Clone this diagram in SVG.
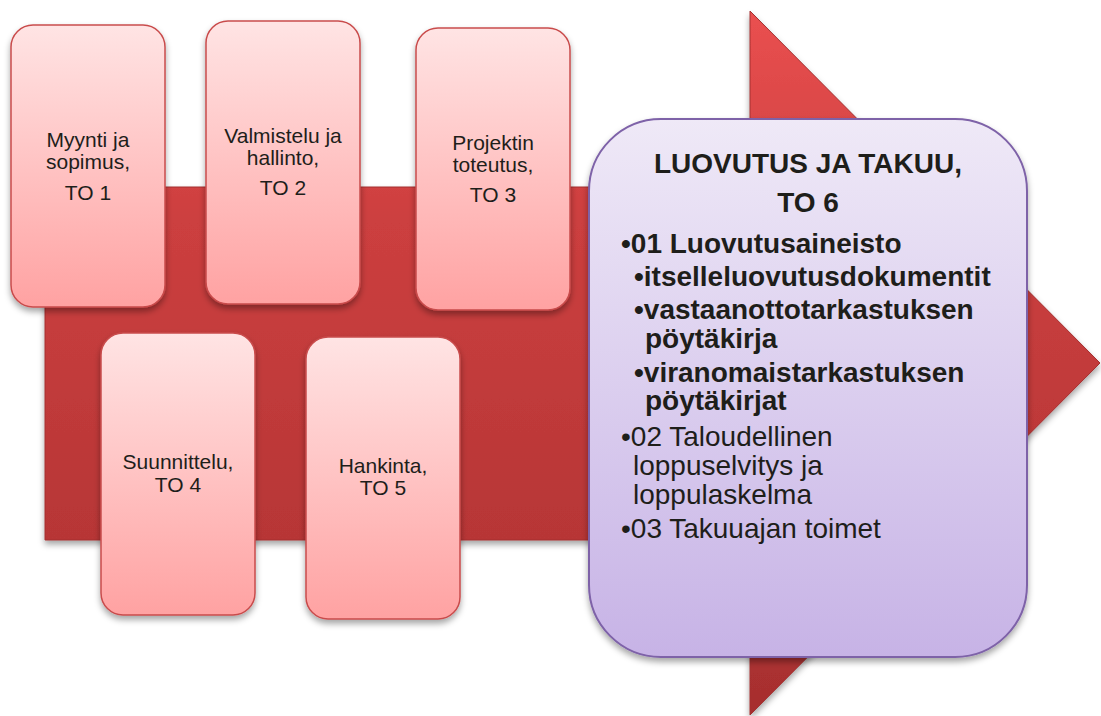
<svg xmlns="http://www.w3.org/2000/svg" width="1101" height="716" viewBox="0 0 1101 716">
<defs>
<linearGradient id="arrowGrad" gradientUnits="userSpaceOnUse" x1="0" y1="11" x2="0" y2="715">
<stop offset="0" stop-color="#ea5050"/>
<stop offset="0.3" stop-color="#cc3f3f"/>
<stop offset="0.75" stop-color="#b73636"/>
<stop offset="1" stop-color="#a62e2e"/>
</linearGradient>
<linearGradient id="boxGrad" x1="0" y1="0" x2="0" y2="1">
<stop offset="0" stop-color="#ffe4e4"/>
<stop offset="1" stop-color="#ffa2a2"/>
</linearGradient>
<linearGradient id="bigGrad" x1="0" y1="0" x2="0" y2="1">
<stop offset="0" stop-color="#efe9f7"/>
<stop offset="1" stop-color="#c7b3e6"/>
</linearGradient>
<filter id="shadow" x="-20%" y="-20%" width="140%" height="150%">
<feDropShadow dx="0" dy="4" stdDeviation="3" flood-color="#000" flood-opacity="0.35"/>
</filter>
</defs>
<style>
.box{fill:url(#boxGrad);stroke:#c94c4c;stroke-width:1.5;filter:url(#shadow)}
.big{fill:url(#bigGrad);stroke:#7e62a8;stroke-width:2;filter:url(#shadow)}
.lbl{font-family:"Liberation Sans",Arial,sans-serif;font-size:21px;fill:#1e1e1a;text-anchor:middle}
.t{font-family:"Liberation Sans",Arial,sans-serif;font-size:28px;fill:#1e1e1a}
.b{font-weight:bold}
</style>
<g id="arrow">
<path d="M45,187 H750 V11 L1100,363 L750,715 V540 H45 Z" fill="url(#arrowGrad)" stroke="#a33030" stroke-width="1" filter="url(#shadow)"/>
</g>
<g id="node1">
<rect class="box" x="11" y="25" width="154" height="282" rx="22"/>
<text class="lbl" x="88" y="147">Myynti ja</text>
<text class="lbl" x="88" y="169">sopimus,</text>
<text class="lbl" x="88" y="200">TO 1</text>
</g>
<g id="node2">
<rect class="box" x="206" y="21" width="154" height="283" rx="22"/>
<text class="lbl" x="283" y="143">Valmistelu ja</text>
<text class="lbl" x="283" y="165">hallinto,</text>
<text class="lbl" x="283" y="195">TO 2</text>
</g>
<g id="node3">
<rect class="box" x="416" y="28" width="154" height="282" rx="22"/>
<text class="lbl" x="493" y="150">Projektin</text>
<text class="lbl" x="493" y="172">toteutus,</text>
<text class="lbl" x="493" y="202">TO 3</text>
</g>
<g id="node4">
<rect class="box" x="101" y="333" width="154" height="282" rx="22"/>
<text class="lbl" x="178" y="469">Suunnittelu,</text>
<text class="lbl" x="178" y="492">TO 4</text>
</g>
<g id="node5">
<rect class="box" x="306" y="337" width="154" height="282" rx="22"/>
<text class="lbl" x="383" y="473">Hankinta,</text>
<text class="lbl" x="383" y="495">TO 5</text>
</g>
<g id="node6">
<rect class="big" x="589" y="119" width="438" height="538" rx="72"/>
<text class="t b" x="808" y="173" text-anchor="middle">LUOVUTUS JA TAKUU,</text>
<text class="t b" x="808" y="212" text-anchor="middle">TO 6</text>
<text class="t b" x="621" y="253">•01 Luovutusaineisto</text>
<text class="t b" x="634" y="286">•itselleluovutusdokumentit</text>
<text class="t b" x="634" y="319">•vastaanottotarkastuksen</text>
<text class="t b" x="645" y="348">pöytäkirja</text>
<text class="t b" x="634" y="382">•viranomaistarkastuksen</text>
<text class="t b" x="645" y="410">pöytäkirjat</text>
<text class="t" x="621" y="446">•02 Taloudellinen</text>
<text class="t" x="633" y="475">loppuselvitys ja</text>
<text class="t" x="633" y="504">loppulaskelma</text>
<text class="t" x="621" y="538">•03 Takuuajan toimet</text>
</g>
</svg>
